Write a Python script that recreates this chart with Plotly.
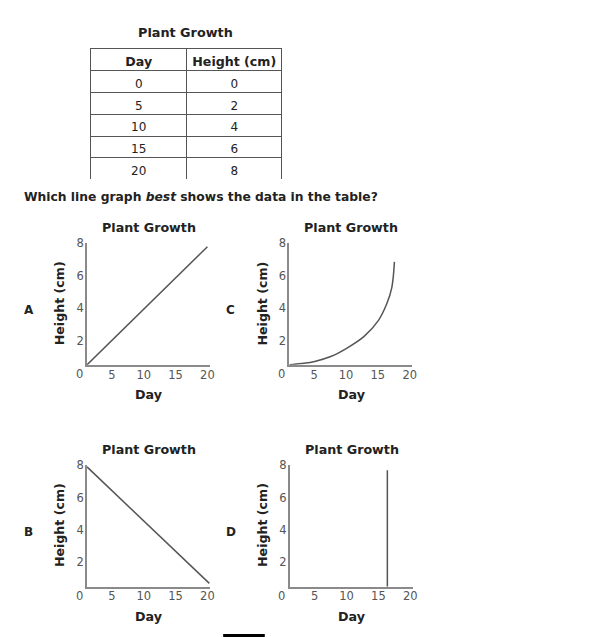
import plotly.graph_objects as go

W, H = 589, 637
OFF = 8  # the page body adds an 8px margin around the figure

# table data
table_days = [0, 5, 10, 15, 20]
table_heights = [0, 2, 4, 6, 8]

# answer choices
a_day = [1.1, 20.0]
a_height = [0.5, 7.8]

b_day = [1.1, 20.3]
b_height = [7.9, 0.7]

c_day = [1.1, 3.0, 5.1, 7.6, 10.1, 12.8, 15.1, 16.4, 17.2, 17.6]
c_height = [0.5, 0.58, 0.71, 1.01, 1.52, 2.24, 3.25, 4.27, 5.29, 6.86]

d_day = [16.4, 16.4]
d_height = [0.5, 7.7]

x_ticks = [5, 10, 15, 20]
y_ticks = [2, 4, 6, 8]

FONT = "DejaVu Sans"
LINE = "#555555"
AXIS = "#8a8a8a"
TICK = "#555555"
TEXT = "#222222"


def px(x):
    return (x - OFF) / W


def py(y):
    return 1 - (y - OFF) / H


def label(text, x, y, size, color=TEXT, **kw):
    return dict(text=text, x=px(x), y=py(y), xref="paper", yref="paper",
                xanchor=kw.pop("xanchor", "center"), yanchor="middle",
                showarrow=False, font=dict(family=FONT, size=size, color=color), **kw)


fig = go.Figure()

# plain text (no markup) so the header row keeps its set height
fig.add_trace(go.Table(
    domain=dict(x=[px(91.7), px(284.5)], y=[py(174), py(42.3)]),
    columnwidth=[1, 1],
    header=dict(
        values=["Day", "Height\u00a0(cm)"],
        height=22,
        align="center",
        fill_color="white",
        line=dict(color="#555555", width=1),
        font=dict(family=FONT, size=12.6, color=TEXT, weight="bold"),
    ),
    cells=dict(
        values=[table_days, table_heights],
        height=21.7,
        align="center",
        fill_color="white",
        line=dict(color="#555555", width=1),
        font=dict(family=FONT, size=12, color=TEXT),
    ),
))

# letter, data, left/bottom pixel of the axis corner
panels = [
    ("A", a_day, a_height, 87.7, 361.7),
    ("C", c_day, c_height, 291.7, 361.7),
    ("B", b_day, b_height, 87.7, 586.0),
    ("D", d_day, d_height, 292.3, 586.0),
]

annotations = [
    label("<b>Plant Growth</b>", 187.5, 26, 12.8),
    label("<b>Which line graph <i>best</i> shows the data in the table?</b>",
          22, 192, 12.3, xanchor="left"),
]

for i, (letter, xs, ys, left, bottom) in enumerate(panels, start=1):
    xa = "x" if i == 1 else f"x{i}"
    ya = "y" if i == 1 else f"y{i}"
    fig.add_trace(go.Scatter(
        x=xs, y=ys, mode="lines", xaxis=xa, yaxis=ya,
        line=dict(color=LINE, width=1.5, shape="spline" if letter == "C" else "linear"),
        showlegend=False, hoverinfo="skip",
    ))
    axis_x = dict(
        domain=[px(left), px(left + 124)], range=[1.1, 20.4],
        showgrid=False, zeroline=False, showline=True, linecolor=AXIS, linewidth=2,
        tickvals=x_ticks, ticks="", anchor=ya, ticklabelstandoff=-2,
        tickfont=dict(family=FONT, size=11.5, color=TICK),
    )
    axis_y = dict(
        domain=[py(bottom), py(bottom - 122.7)], range=[0.5, 8],
        showgrid=False, zeroline=False, showline=True, linecolor=AXIS, linewidth=2,
        tickvals=y_ticks, ticks="", anchor=xa, ticklabelstandoff=-1,
        tickfont=dict(family=FONT, size=11.5, color=TICK),
    )
    fig.layout["xaxis" if i == 1 else f"xaxis{i}"] = axis_x
    fig.layout["yaxis" if i == 1 else f"yaxis{i}"] = axis_y

    annotations += [
        # the shared "0" at the corner, where day 0 / height 0 would sit
        label("0", left - 1.1 * 6.42 - 1, bottom + 9, 11.5, color=TICK),
        label("<b>Plant Growth</b>", left + 62.5, bottom - 139, 12.7),
        label("<b>Day</b>", left + 63, bottom + 30, 12.7),
        label("<b>Height (cm)</b>", left - 27.5, bottom - 62, 12.6, textangle=-90),
        label(f"<b>{letter}</b>", left - 59, bottom - 55, 12),
    ]

fig.update_layout(
    width=W, height=H,
    margin=dict(l=0, r=0, t=0, b=0),
    paper_bgcolor="white", plot_bgcolor="white",
    annotations=annotations,
    shapes=[dict(type="rect", xref="paper", yref="paper",
                 x0=px(225), x1=px(267), y0=py(637), y1=py(634),
                 fillcolor="black", line=dict(width=0))],
    showlegend=False,
)

fig.write_html("out.html")
